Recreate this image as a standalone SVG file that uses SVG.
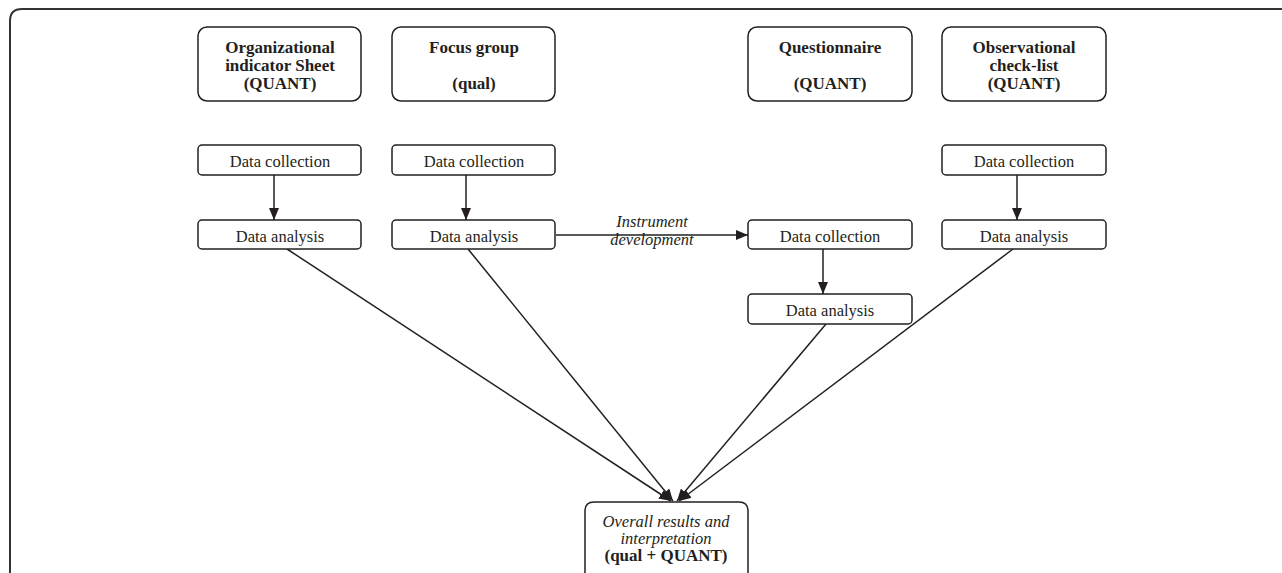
<svg xmlns="http://www.w3.org/2000/svg" width="1282" height="573" viewBox="0 0 1282 573">
<style>
.box{fill:#fff;stroke:#231f20;stroke-width:1.5}
.t{font-family:"Liberation Serif","Times New Roman",serif;fill:#231f20;text-anchor:middle}
.b{font-weight:bold;font-size:17px}
.r{font-size:16.5px}
.i{font-size:16.5px;font-style:italic}
.c{stroke:#231f20;stroke-width:1.5;fill:none}
</style>
<defs>
<marker id="ah" viewBox="0 0 12 10" refX="12" refY="5" markerWidth="12" markerHeight="10" markerUnits="userSpaceOnUse" orient="auto">
<path d="M0,0 L12,5 L0,10 Z" fill="#231f20"/>
</marker>
</defs>
<rect width="1282" height="573" fill="#fff"/>
<path d="M10,573 V21 Q10,9 22,9 H1282" fill="none" stroke="#333" stroke-width="2"/>

<g id="connectors">
<line class="c" x1="274" y1="175" x2="274" y2="220" marker-end="url(#ah)"/>
<line class="c" x1="466" y1="175" x2="466" y2="220" marker-end="url(#ah)"/>
<line class="c" x1="1017" y1="175" x2="1017" y2="220" marker-end="url(#ah)"/>
<line class="c" x1="823" y1="249" x2="823" y2="294" marker-end="url(#ah)"/>
<line class="c" x1="556" y1="235" x2="748" y2="235" marker-end="url(#ah)"/>
<text class="t i" x="652" y="227">Instrument</text>
<text class="t i" x="652" y="245">development</text>
<line class="c" x1="287" y1="249" x2="671" y2="501" marker-end="url(#ah)"/>
<line class="c" x1="468" y1="249" x2="673" y2="501" marker-end="url(#ah)"/>
<line class="c" x1="826" y1="324" x2="677" y2="501" marker-end="url(#ah)"/>
<line class="c" x1="1013" y1="249" x2="679" y2="501" marker-end="url(#ah)"/>
</g>

<g id="n-org">
<rect class="box" x="198" y="27" width="163" height="74" rx="9"/>
<text class="t b" x="280" y="53">Organizational</text>
<text class="t b" x="280" y="71">indicator Sheet</text>
<text class="t b" x="280" y="89">(QUANT)</text>
</g>
<g id="n-focus">
<rect class="box" x="392" y="27" width="163" height="74" rx="9"/>
<text class="t b" x="474" y="53">Focus group</text>
<text class="t b" x="474" y="89">(qual)</text>
</g>
<g id="n-quest">
<rect class="box" x="748" y="27" width="164" height="74" rx="9"/>
<text class="t b" x="830" y="53">Questionnaire</text>
<text class="t b" x="830" y="89">(QUANT)</text>
</g>
<g id="n-obs">
<rect class="box" x="942" y="27" width="164" height="74" rx="9"/>
<text class="t b" x="1024" y="53">Observational</text>
<text class="t b" x="1024" y="71">check-list</text>
<text class="t b" x="1024" y="89">(QUANT)</text>
</g>

<g id="n-dc1">
<rect class="box" x="198" y="145" width="163" height="30" rx="4"/>
<text class="t r" x="280" y="167">Data collection</text>
</g>
<g id="n-dc2">
<rect class="box" x="392" y="145" width="163" height="30" rx="4"/>
<text class="t r" x="474" y="167">Data collection</text>
</g>
<g id="n-dc4">
<rect class="box" x="942" y="145" width="164" height="30" rx="4"/>
<text class="t r" x="1024" y="167">Data collection</text>
</g>
<g id="n-da1">
<rect class="box" x="198" y="220" width="163" height="29" rx="4"/>
<text class="t r" x="280" y="242">Data analysis</text>
</g>
<g id="n-da2">
<rect class="box" x="392" y="220" width="163" height="29" rx="4"/>
<text class="t r" x="474" y="242">Data analysis</text>
</g>
<g id="n-dc3">
<rect class="box" x="748" y="220" width="164" height="29" rx="4"/>
<text class="t r" x="830" y="242">Data collection</text>
</g>
<g id="n-da4">
<rect class="box" x="942" y="220" width="164" height="29" rx="4"/>
<text class="t r" x="1024" y="242">Data analysis</text>
</g>
<g id="n-da3">
<rect class="box" x="748" y="294" width="164" height="30" rx="4"/>
<text class="t r" x="830" y="316">Data analysis</text>
</g>

<g id="n-overall">
<path class="box" d="M585,580 V511 Q585,502 594,502 H739 Q748,502 748,511 V580"/>
<text class="t i" x="666" y="527">Overall results and</text>
<text class="t i" x="666" y="544">interpretation</text>
<text class="t b" x="666" y="561">(qual + QUANT)</text>
</g>
</svg>
